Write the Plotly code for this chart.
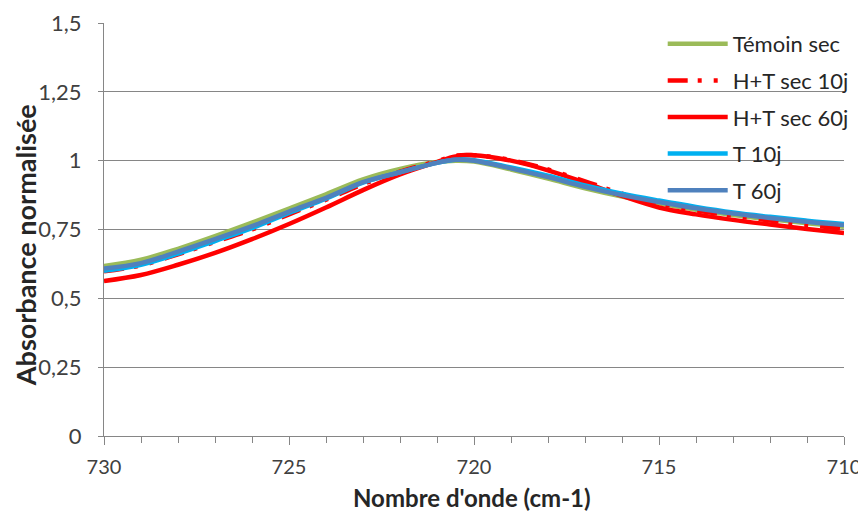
import plotly.graph_objects as go

# wavenumbers (cm-1)
wavenumber = [730, 729, 728, 727, 726, 725, 724, 723, 722, 721, 720.5, 720,
              719, 718, 717, 716, 715, 714, 713, 712, 711, 710]

temoin_sec = [0.617, 0.640, 0.680, 0.726, 0.775, 0.826, 0.878, 0.932, 0.970, 0.995, 1.000, 0.997,
              0.968, 0.935, 0.900, 0.870, 0.845, 0.822, 0.803, 0.787, 0.773, 0.760]
ht_sec_10j = [0.598, 0.620, 0.660, 0.705, 0.750, 0.805, 0.858, 0.915, 0.960, 0.998, 1.018, 1.020,
              1.002, 0.968, 0.925, 0.880, 0.845, 0.820, 0.800, 0.783, 0.767, 0.752]
ht_sec_60j = [0.563, 0.585, 0.622, 0.665, 0.715, 0.770, 0.830, 0.893, 0.950, 0.995, 1.015, 1.020,
              1.000, 0.965, 0.920, 0.872, 0.830, 0.805, 0.785, 0.768, 0.752, 0.737]
t_10j = [0.600, 0.622, 0.662, 0.708, 0.755, 0.810, 0.862, 0.920, 0.958, 0.992, 1.003, 1.002,
         0.975, 0.945, 0.910, 0.880, 0.855, 0.832, 0.812, 0.796, 0.782, 0.770]
t_60j = [0.608, 0.628, 0.670, 0.715, 0.762, 0.815, 0.865, 0.922, 0.958, 0.992, 1.003, 1.000,
         0.972, 0.940, 0.905, 0.875, 0.850, 0.827, 0.808, 0.792, 0.778, 0.766]

y_ticks = [0, 0.25, 0.5, 0.75, 1, 1.25, 1.5]
y_labels = ['0', '0,25', '0,5', '0,75', '1', '1,25', '1,5']
x_ticks = [730, 725, 720, 715, 710]

series = [
    ('Témoin sec', temoin_sec, '#9BBB59', 'solid'),
    ('H+T sec 10j', ht_sec_10j, '#FF0000', '20px,10px,4px,12px,4px,12px'),
    ('H+T sec 60j', ht_sec_60j, '#FF0000', 'solid'),
    ('T 10j', t_10j, '#00B0F0', 'solid'),
    ('T 60j', t_60j, '#4F81BD', 'solid'),
]

fig = go.Figure()
for name, vals, color, dash in series:
    fig.add_trace(go.Scatter(x=wavenumber, y=vals, mode='lines', name=name,
                             legendgroup=name,
                             line=dict(color=color, width=4.5, dash=dash, shape='spline')))

# page body has an 8px margin, so the figure is 8px smaller and shifted
fig.update_layout(
    width=858, height=505,
    margin=dict(l=96, r=19, t=15, b=77),
    plot_bgcolor='white', paper_bgcolor='white',
    font=dict(family='Lato', size=22, color='#404040'),
    legend=dict(x=0.755, y=1.0, xanchor='left', yanchor='top',
                bgcolor='rgba(0,0,0,0)', itemwidth=60, tracegroupgap=5,
                traceorder='grouped', font=dict(size=22, color='#262626')),
)
# axis titles as annotations so they sit where the original has them
fig.add_annotation(text="<b>Nombre d'onde (cm-1)</b>", xref='paper', yref='paper',
                   x=0.497, y=-0.15, xanchor='center', yanchor='middle', showarrow=False,
                   font=dict(size=24, color='#262626'))
fig.add_annotation(text='<b>Absorbance normalisée</b>', xref='paper', yref='paper',
                   x=-0.106, y=0.461, xanchor='center', yanchor='middle', showarrow=False,
                   textangle=-90, font=dict(size=27, color='#262626'))

fig.update_xaxes(range=[730, 710], tickvals=x_ticks, showgrid=False, automargin=False,
                 showline=True, linecolor='#868686', linewidth=1,
                 ticks='outside', ticklen=8, tickcolor='#868686', ticklabelstandoff=5,
                 tickfont=dict(size=20),
                 minor=dict(dtick=1, ticks='outside', ticklen=6, tickcolor='#868686'),
                 zeroline=False)
fig.update_yaxes(range=[0, 1.5], tickvals=y_ticks, ticktext=y_labels, automargin=False,
                 showgrid=True, gridcolor='#868686', gridwidth=1,
                 showline=True, linecolor='#868686', linewidth=1,
                 ticks='outside', ticklen=5, tickcolor='#868686', ticklabelstandoff=12,
                 zeroline=False)

fig.write_html("out.html")
